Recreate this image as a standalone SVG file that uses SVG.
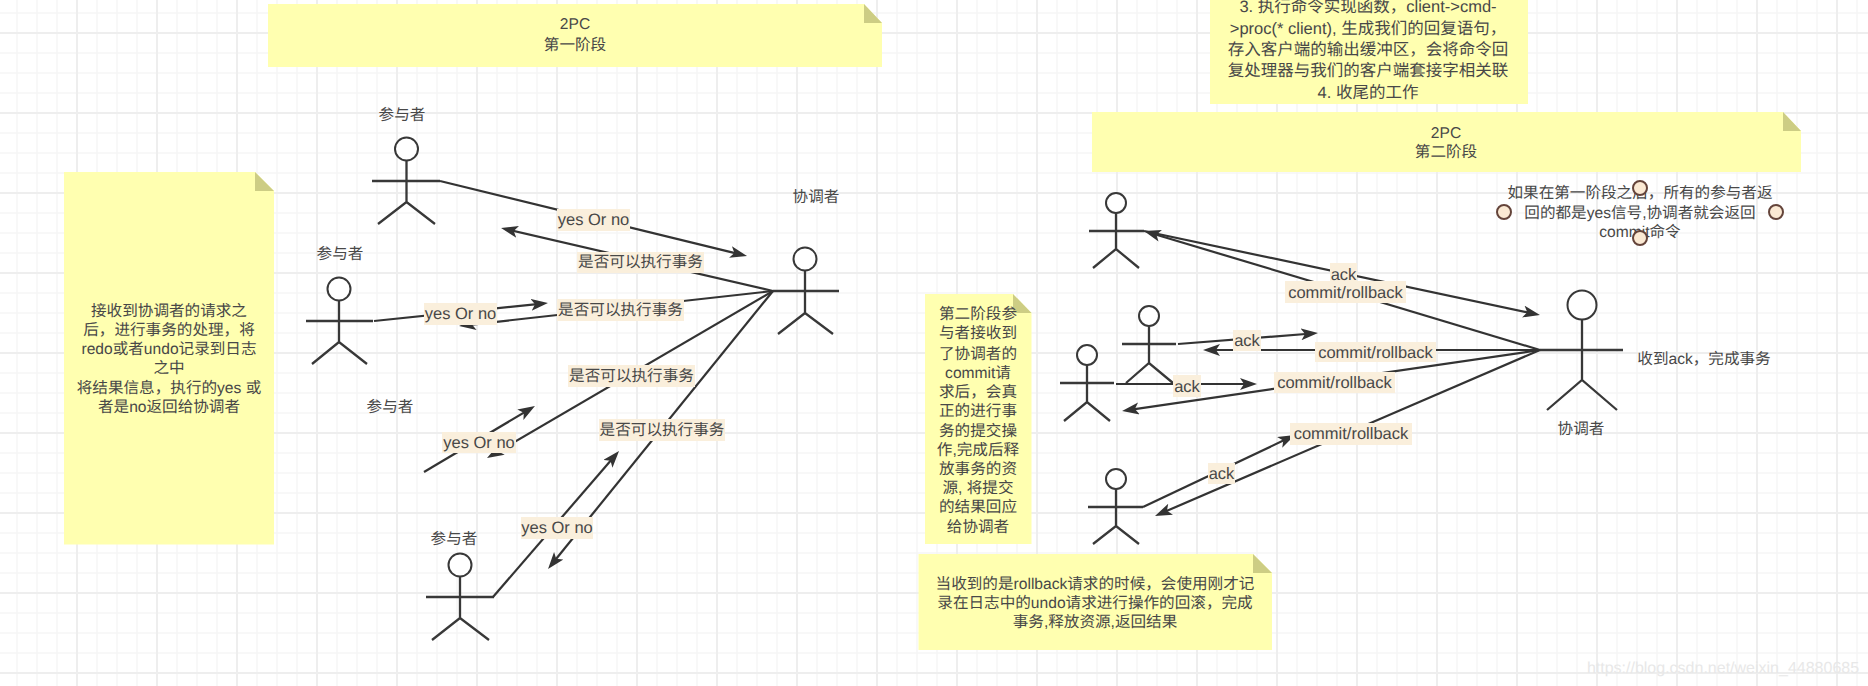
<svg xmlns="http://www.w3.org/2000/svg" width="1868" height="686" viewBox="0 0 1868 686">
<style>
text{font-family:"Liberation Sans","Noto Sans CJK SC",sans-serif;font-size:15.6px;fill:#484848;text-anchor:middle;dominant-baseline:central;text-rendering:geometricPrecision}
.note{fill:#ffffb0}
.fold{fill:#cdcd84}
.actor{fill:none;stroke:#383838;stroke-width:2.3}
.head{fill:#fff;stroke:#383838;stroke-width:2}
.edge{fill:none;stroke:#333;stroke-width:2.2;marker-end:url(#arrow)}
.lbg{fill:#faefdc}
.lat{font-size:16.5px}
.big{font-size:16.5px}
.handle{fill:#fbe9d3;stroke:#64443a;stroke-width:2}
</style>
<defs>
<pattern id="grid" width="80" height="80" patternUnits="userSpaceOnUse" patternTransform="translate(67,23)">
<path d="M30 0V80M50 0V80M70 0V80M0 30H80M0 50H80M0 70H80" stroke="#f6f6f6" stroke-width="1.5" fill="none"/>
<path d="M10 0V80M0 10H80" stroke="#eeeeee" stroke-width="2" fill="none"/>
</pattern>
<marker id="arrow" markerUnits="userSpaceOnUse" markerWidth="20" markerHeight="14" refX="11" refY="6" orient="auto">
<path d="M0 0L17 6L0 12L4 6Z" fill="#333"/>
</marker>
</defs>
<rect width="1868" height="686" fill="#fff"/>
<rect width="1868" height="686" fill="url(#grid)"/>

<g id="note-phase1">
<path class="note" d="M268 4H864L882 23V67H268Z"/><path class="fold" d="M864 4L882 23H864Z"/>
<text x="575" y="24">2PC</text><text x="575" y="45">第一阶段</text>
</g>
<g id="note-participant">
<path class="note" d="M64 172H255L274 191V544.500H64Z"/><path class="fold" d="M255 172L274 191H255Z"/>
<text x="169" y="311">接收到协调者的请求之</text>
<text x="169" y="330">后，进行事务的处理，将</text>
<text x="169" y="349">redo或者undo记录到日志</text>
<text x="169" y="368">之中</text>
<text x="169" y="388">将结果信息，执行的yes 或</text>
<text x="169" y="407">者是no返回给协调者</text>
</g>
<g id="note-top">
<rect class="note" x="1210" y="-4" width="318" height="108"/>
<text class="big" x="1368" y="7">3. 执行命令实现函数，client-&gt;cmd-</text>
<text class="big" x="1368" y="29">&gt;proc(* client), 生成我们的回复语句，</text>
<text class="big" x="1368" y="50">存入客户端的输出缓冲区，会将命令回</text>
<text class="big" x="1368" y="71">复处理器与我们的客户端套接字相关联</text>
<text class="big" x="1368" y="93">4. 收尾的工作</text>
</g>
<g id="note-phase2">
<path class="note" d="M1092 112H1783L1801 131V172H1092Z"/><path class="fold" d="M1783 112L1801 131H1783Z"/>
<text x="1446" y="133">2PC</text><text x="1446" y="152">第二阶段</text>
</g>
<g id="note-commit">
<path class="note" d="M925 294H1013L1031.500 313V544H925Z"/><path class="fold" d="M1013 294L1031.500 313H1013Z"/>
<text x="978" y="314">第二阶段参</text>
<text x="978" y="333">与者接收到</text>
<text x="978" y="354">了协调者的</text>
<text x="978" y="373">commit请</text>
<text x="978" y="392">求后，会真</text>
<text x="978" y="411">正的进行事</text>
<text x="978" y="431">务的提交操</text>
<text x="978" y="450">作,完成后释</text>
<text x="978" y="469">放事务的资</text>
<text x="978" y="488">源, 将提交</text>
<text x="978" y="507">的结果回应</text>
<text x="978" y="527">给协调者</text>
</g>
<g id="note-rollback">
<path class="note" d="M918.500 554H1253L1272 573V650H918.500Z"/><path class="fold" d="M1253 554L1272 573H1253Z"/>
<text x="1095" y="584">当收到的是rollback请求的时候，会使用刚才记</text>
<text x="1095" y="603">录在日志中的undo请求进行操作的回滚，完成</text>
<text x="1095" y="622">事务,释放资源,返回结果</text>
</g>

<g id="actor-p1">
<path class="actor" d="M406.500 160V202M372 181H440M378 224L406.500 202L435 224"/><circle class="head" cx="406.500" cy="149" r="11.500"/>
<text x="402" y="115">参与者</text>
</g>
<g id="actor-p2">
<path class="actor" d="M339 301V342M306 321H373M312 364L339 342L367 364"/><circle class="head" cx="339" cy="289" r="11.500"/>
<text x="340" y="254">参与者</text>
</g>
<g id="label-p3"><text x="390" y="407">参与者</text></g>
<g id="actor-p4">
<path class="actor" d="M460 577V618M426 597H494M432 640L460 618L489 640"/><circle class="head" cx="460" cy="565" r="11.500"/>
<text x="454" y="539">参与者</text>
</g>
<g id="actor-coord1">
<path class="actor" d="M805 271V313M773 291H839M778 334L805 313L833 334"/><circle class="head" cx="805" cy="259" r="11.500"/>
<text x="816" y="197">协调者</text>
</g>
<g id="actor-r1">
<path class="actor" d="M1116 213V249M1089 231H1144M1093 268L1116 249L1139 268"/><circle class="head" cx="1116" cy="203" r="10"/>
</g>
<g id="actor-r2">
<path class="actor" d="M1149 326V363M1122 344H1176M1126 383L1149 363L1173 383"/><circle class="head" cx="1149" cy="316" r="10"/>
</g>
<g id="actor-r3">
<path class="actor" d="M1087 365V402M1060 383H1114M1064 421L1087 402L1110 421"/><circle class="head" cx="1087" cy="355" r="10"/>
</g>
<g id="actor-r4">
<path class="actor" d="M1116 489V526M1088 507H1143M1093 544L1116 526L1139 544"/><circle class="head" cx="1116" cy="479" r="10"/>
</g>
<g id="actor-coord2">
<path class="actor" d="M1582 320V380M1540 350H1623M1547 410L1582 380L1617 410"/><circle class="head" cx="1582" cy="305" r="14.500"/>
<text x="1581" y="429">协调者</text>
<text x="1704" y="359">收到ack，完成事务</text>
</g>

<g id="note-commit-condition">
<text x="1640" y="193">如果在第一阶段之后，所有的参与者返</text>
<text x="1640" y="213">回的都是yes信号,协调者就会返回</text>
<text x="1640" y="232">commit命令</text>
<circle class="handle" cx="1640" cy="188" r="7"/>
<circle class="handle" cx="1504" cy="212" r="7"/>
<circle class="handle" cx="1776" cy="212" r="7"/>
<circle class="handle" cx="1640" cy="238" r="7"/>
</g>

<g id="connectors">
<path class="edge" d="M440 181L741.200 254.600"/>
<path class="edge" d="M773 291L506.900 229.400"/>
<path class="edge" d="M374 321L542 303.600"/>
<path class="edge" d="M773 291L465 325.300"/>
<path class="edge" d="M424 472L529.800 409.100"/>
<path class="edge" d="M773 291L492.200 455"/>
<path class="edge" d="M493 597L615.100 455.500"/>
<path class="edge" d="M773 291L551.800 564.300"/>
<path class="edge" d="M1144 231L1534.100 313.800"/>
<path class="edge" d="M1540 350L1149.700 232.700"/>
<path class="edge" d="M1178 344L1312 333.500"/>
<path class="edge" d="M1540 350L1209 350"/>
<path class="edge" d="M1116 384L1251 384"/>
<path class="edge" d="M1540 350L1128 410.100"/>
<path class="edge" d="M1143 507L1289.600 437.600"/>
<path class="edge" d="M1540 350L1160.500 513.600"/>

<g id="connector-labels">
<rect class="lbg" x="557" y="209" width="73" height="22"/><text class="lat" x="593.500" y="220">yes Or no</text>
<rect class="lbg" x="577" y="252" width="127" height="21"/><text x="640.500" y="262.500">是否可以执行事务</text>
<rect class="lbg" x="424" y="303" width="73" height="22"/><text class="lat" x="460.500" y="314">yes Or no</text>
<rect class="lbg" x="557" y="299" width="127" height="22"/><text x="620.500" y="310">是否可以执行事务</text>
<rect class="lbg" x="442" y="432" width="74" height="21"/><text class="lat" x="479" y="442.500">yes Or no</text>
<rect class="lbg" x="568" y="365" width="127" height="22"/><text x="631.500" y="376">是否可以执行事务</text>
<rect class="lbg" x="521" y="517" width="72" height="22"/><text class="lat" x="557" y="528">yes Or no</text>
<rect class="lbg" x="599" y="419" width="126" height="22"/><text x="662" y="430">是否可以执行事务</text>
<rect class="lbg" x="1330" y="263" width="27" height="20"/><text class="lat" x="1343.500" y="275">ack</text>
<rect class="lbg" x="1285" y="281" width="121" height="22"/><text class="lat" x="1345.500" y="292.500">commit/rollback</text>
<rect class="lbg" x="1233" y="330" width="28" height="21"/><text class="lat" x="1247" y="340.500">ack</text>
<rect class="lbg" x="1315" y="342" width="121" height="20"/><text class="lat" x="1375.500" y="352.500">commit/rollback</text>
<rect class="lbg" x="1173" y="375" width="28" height="22"/><text class="lat" x="1187" y="386.500">ack</text>
<rect class="lbg" x="1274" y="372" width="121" height="21"/><text class="lat" x="1334.500" y="382.500">commit/rollback</text>
<rect class="lbg" x="1208" y="463" width="27" height="21"/><text class="lat" x="1221.500" y="474">ack</text>
<rect class="lbg" x="1290" y="423" width="122" height="22"/><text class="lat" x="1351" y="434">commit/rollback</text>
</g>
</g>

<text x="1723" y="668" style="font-size:16px;fill:#e8e8e8">https://blog.csdn.net/weixin_44880685</text>
</svg>
